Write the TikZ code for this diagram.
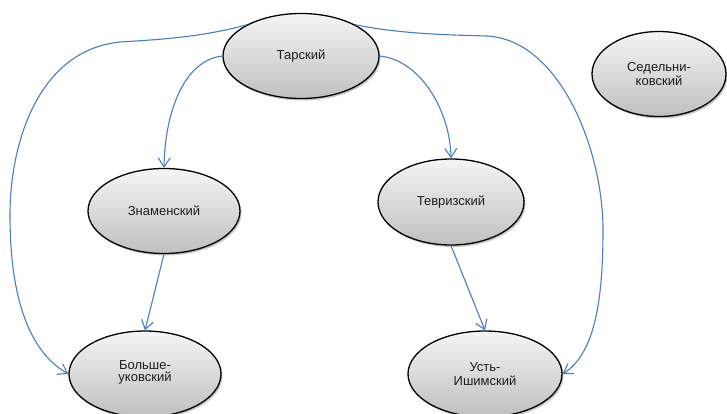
\documentclass[tikz,border=0pt]{standalone}
\usepackage{fontspec}
\setmainfont{Liberation Sans}
\usetikzlibrary{arrows.meta,shapes.geometric,shadows}

\definecolor{linkblue}{RGB}{74,126,187}
\definecolor{labelink}{RGB}{30,30,30}

\tikzset{
  district/.style={
    ellipse, draw=black, line width=1.3pt, inner sep=0pt,
    top color=gray!8, bottom color=gray!50,
    drop shadow={shadow xshift=1.5pt, shadow yshift=-2pt, fill=black, opacity=0.22},
    font=\fontsize{13}{14.5}\selectfont, text=labelink, align=center
  },
  link/.style={
    draw=linkblue, line width=1.1pt,
    -{Straight Barb[length=9pt,width=12pt,line width=1.1pt]}
  }
}

\begin{document}
\begin{tikzpicture}[x=1pt,y=-1pt]
  \clip (0,0) rectangle (727,414);
  \fill[white] (0,0) rectangle (727,414);

  % districts
  \node[district, minimum width=156pt, minimum height=85pt] (tar) at (301,56) {Тарский};
  \node[district, minimum width=134pt, minimum height=85pt] (sed) at (659,74) {Седельни-\\ковский};
  \node[district, minimum width=152pt, minimum height=85pt] (zna) at (164,211) {Знаменский};
  \node[district, minimum width=146pt, minimum height=86pt] (tev) at (451,202) {Тевризский};
  \node[district, minimum width=152pt, minimum height=86pt] (bol) at (145,374) {\raisebox{6pt}{\shortstack{Больше-\\уковский}}};
  \node[district, minimum width=154pt, minimum height=86pt] (ust) at (485,374) {Усть-\\Ишимский};

  % links from Тарский
  \draw[link] (tar.180) .. controls (185,60) and (165,110) .. (zna.north);
  \draw[link] (tar.0) .. controls (420,60) and (450,110) .. (tev.north);
  \draw[link] (tar.150) .. controls (200,38) and (150,40) .. (120,42)
              .. controls (40,50) and (10,140) .. (10,215)
              .. controls (10,300) and (30,352) .. (bol.west);
  \draw[link] (tar.30) .. controls (400,34) and (450,35) .. (487,36)
              .. controls (560,40) and (603,150) .. (603,230)
              .. controls (603,310) and (592,355) .. (ust.east);

  % straight links
  \draw[link] (zna.south) -- (bol.north);
  \draw[link] (tev.south) -- (ust.north);
\end{tikzpicture}
\end{document}
